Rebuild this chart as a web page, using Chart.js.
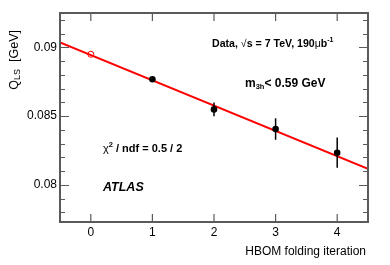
<!DOCTYPE html>
<html>
<head>
<meta charset="utf-8">
<script src="https://cdn.jsdelivr.net/npm/chart.js@4"></script>
<style>
  body { margin: 0; background: #fff; }
  #wrap { width: 390px; height: 265px; position: relative; }
</style>
</head>
<body>
<div id="wrap"><canvas id="myChart"></canvas></div>
<script>
// iterations and measured Q_LS values
const iterations = [1, 2, 3, 4];
const qValues = [0.08768, 0.08549, 0.08406, 0.08234];
const qErrors = [0.0001, 0.0005, 0.00078, 0.0011];

// iteration 0 (open marker)
const startX = [0];
const startY = [0.0895];

// fit line end points
const fitX = [-0.5, 4.5];
const fitY = [0.09036, 0.08116];

// axis ticks
const xTicks = [0, 1, 2, 3, 4];
const yTicks = [0.08, 0.085, 0.09];
const yMinorTicks = [0.078, 0.079, 0.080, 0.081, 0.082, 0.083, 0.084, 0.085, 0.086, 0.087, 0.088, 0.089, 0.090, 0.091, 0.092];

const FONT = '"Liberation Sans", Arial, sans-serif';
const AXIS_COLOR = '#5a5a5a';

// error bars
const errorBars = {
    id: 'errorBars',
    afterDatasetsDraw(chart) {
        const ctx = chart.ctx;
        const y = chart.scales.y;
        const x = chart.scales.x;
        ctx.save();
        ctx.strokeStyle = '#000';
        ctx.lineWidth = 1.5;
        for (let i = 0; i < iterations.length; i++) {
            const px = x.getPixelForValue(iterations[i]);
            ctx.beginPath();
            ctx.moveTo(px, y.getPixelForValue(qValues[i] - qErrors[i]));
            ctx.lineTo(px, y.getPixelForValue(qValues[i] + qErrors[i]));
            ctx.stroke();
        }
        ctx.restore();
    }
};

// ROOT-style frame, inward ticks and text
const frame = {
    id: 'frame',
    afterDraw(chart) {
        const ctx = chart.ctx;
        const a = chart.chartArea;
        const x = chart.scales.x;
        const y = chart.scales.y;
        ctx.save();
        ctx.strokeStyle = AXIS_COLOR;
        ctx.lineWidth = 2;
        ctx.strokeRect(a.left, a.top, a.right - a.left, a.bottom - a.top);

        ctx.lineWidth = 1.2;
        ctx.beginPath();
        xTicks.forEach(v => {
            const px = x.getPixelForValue(v);
            ctx.moveTo(px, a.bottom); ctx.lineTo(px, a.bottom - 8);
            ctx.moveTo(px, a.top); ctx.lineTo(px, a.top + 8);
        });
        yMinorTicks.forEach(v => {
            const py = Math.round(y.getPixelForValue(v)) + 0.5;
            const major = yTicks.some(t => Math.abs(t - v) < 1e-6);
            const len = major ? 9 : 5;
            ctx.moveTo(a.left, py); ctx.lineTo(a.left + len, py);
            ctx.moveTo(a.right, py); ctx.lineTo(a.right - len, py);
        });
        ctx.stroke();

        // axis titles
        ctx.fillStyle = '#000';
        ctx.font = '12px ' + FONT;
        ctx.textAlign = 'right';
        ctx.textBaseline = 'middle';
        ctx.fillText('HBOM folding iteration', a.right - 2, 252);

        ctx.save();
        ctx.translate(15, 30);
        ctx.rotate(-Math.PI / 2);
        ctx.textAlign = 'right';
        ctx.font = '12.5px ' + FONT;
        let w1 = ctx.measureText('[GeV]').width;
        ctx.fillText('[GeV]', 0, 0);
        ctx.font = '9px ' + FONT;
        let wSub = ctx.measureText('LS').width;
        ctx.fillText('LS', -w1 - 7, 3);
        ctx.font = '12.5px ' + FONT;
        ctx.fillText('Q', -w1 - 7 - wSub, 0);
        ctx.restore();

        // labels
        ctx.textAlign = 'left';
        ctx.textBaseline = 'alphabetic';
        const f1 = 10.6;
        ctx.font = 'bold ' + f1 + 'px ' + FONT;
        let tx = 212, ty = 47;
        ctx.fillText('Data,', tx, ty);
        tx += ctx.measureText('Data, ').width;
        ctx.font = f1 + 'px ' + FONT;
        ctx.fillText('\u221A', tx, ty);
        tx += ctx.measureText('\u221A').width;
        ctx.font = 'bold ' + f1 + 'px ' + FONT;
        ctx.fillText('s = 7 TeV, 190', tx, ty);
        tx += ctx.measureText('s = 7 TeV, 190').width;
        ctx.font = f1 + 'px ' + FONT;
        ctx.fillText('\u03BC', tx, ty);
        tx += ctx.measureText('\u03BC').width;
        ctx.font = 'bold ' + f1 + 'px ' + FONT;
        ctx.fillText('b', tx, ty);
        tx += ctx.measureText('b').width;
        ctx.font = 'bold 7px ' + FONT;
        ctx.fillText('-1', tx, ty - 5);

        ctx.font = 'bold 12px ' + FONT;
        tx = 245; ty = 87;
        ctx.fillText('m', tx, ty);
        tx += ctx.measureText('m').width;
        ctx.font = 'bold 7.5px ' + FONT;
        ctx.fillText('3h', tx, ty + 2);
        tx += ctx.measureText('3h').width;
        ctx.font = 'bold 12px ' + FONT;
        ctx.fillText('< 0.59 GeV', tx, ty);

        tx = 103; ty = 152;
        ctx.font = '11px ' + FONT;
        ctx.fillText('\u03C7', tx, ty);
        tx += ctx.measureText('\u03C7').width;
        ctx.font = 'bold 7.5px ' + FONT;
        ctx.fillText('2', tx, ty - 5);
        tx += ctx.measureText('2').width;
        ctx.font = 'bold 11px ' + FONT;
        ctx.fillText(' / ndf = 0.5 / 2', tx, ty);

        ctx.font = 'italic bold 12.5px ' + FONT;
        ctx.fillText('ATLAS', 103, 191);
        ctx.restore();
    }
};

const ctx = document.getElementById('myChart').getContext('2d');

window.myChart = new Chart(ctx, {
    type: 'scatter',
    data: {
        datasets: [
            {
                type: 'line',
                data: fitX.map((v, i) => ({ x: v, y: fitY[i] })),
                borderColor: '#ff0000',
                borderWidth: 2,
                pointRadius: 0,
                order: 3
            },
            {
                data: startX.map((v, i) => ({ x: v, y: startY[i] })),
                borderColor: '#ff0000',
                backgroundColor: 'rgba(0,0,0,0)',
                borderWidth: 1,
                pointRadius: 3,
                order: 2
            },
            {
                data: iterations.map((v, i) => ({ x: v, y: qValues[i] })),
                borderColor: '#000',
                backgroundColor: '#000',
                pointRadius: 3.3,
                borderWidth: 0,
                order: 1
            }
        ]
    },
    options: {
        responsive: true,
        maintainAspectRatio: false,
        animation: false,
        layout: { padding: { top: 13, right: 22, left: 0, bottom: 0 } },
        plugins: {
            legend: { display: false },
            tooltip: { enabled: false }
        },
        scales: {
            x: {
                type: 'linear',
                position: 'bottom',
                min: -0.5,
                max: 4.5,
                afterBuildTicks: s => { s.ticks = xTicks.map(v => ({ value: v })); },
                afterFit: s => { s.height = 43; },
                grid: { display: false, drawTicks: false },
                border: { display: false },
                ticks: {
                    padding: 3,
                    color: '#000',
                    font: { family: FONT, size: 12 }
                }
            },
            y: {
                type: 'linear',
                position: 'left',
                min: 0.0773,
                max: 0.0925,
                afterBuildTicks: s => { s.ticks = yTicks.map(v => ({ value: v })); },
                afterFit: s => { s.width = 60; },
                grid: { display: false, drawTicks: false },
                border: { display: false },
                ticks: {
                    padding: 3,
                    color: '#000',
                    font: { family: FONT, size: 12 },
                    callback: v => String(Number(v.toFixed(3)))
                }
            }
        }
    },
    plugins: [errorBars, frame]
});
</script>
</body>
</html>
